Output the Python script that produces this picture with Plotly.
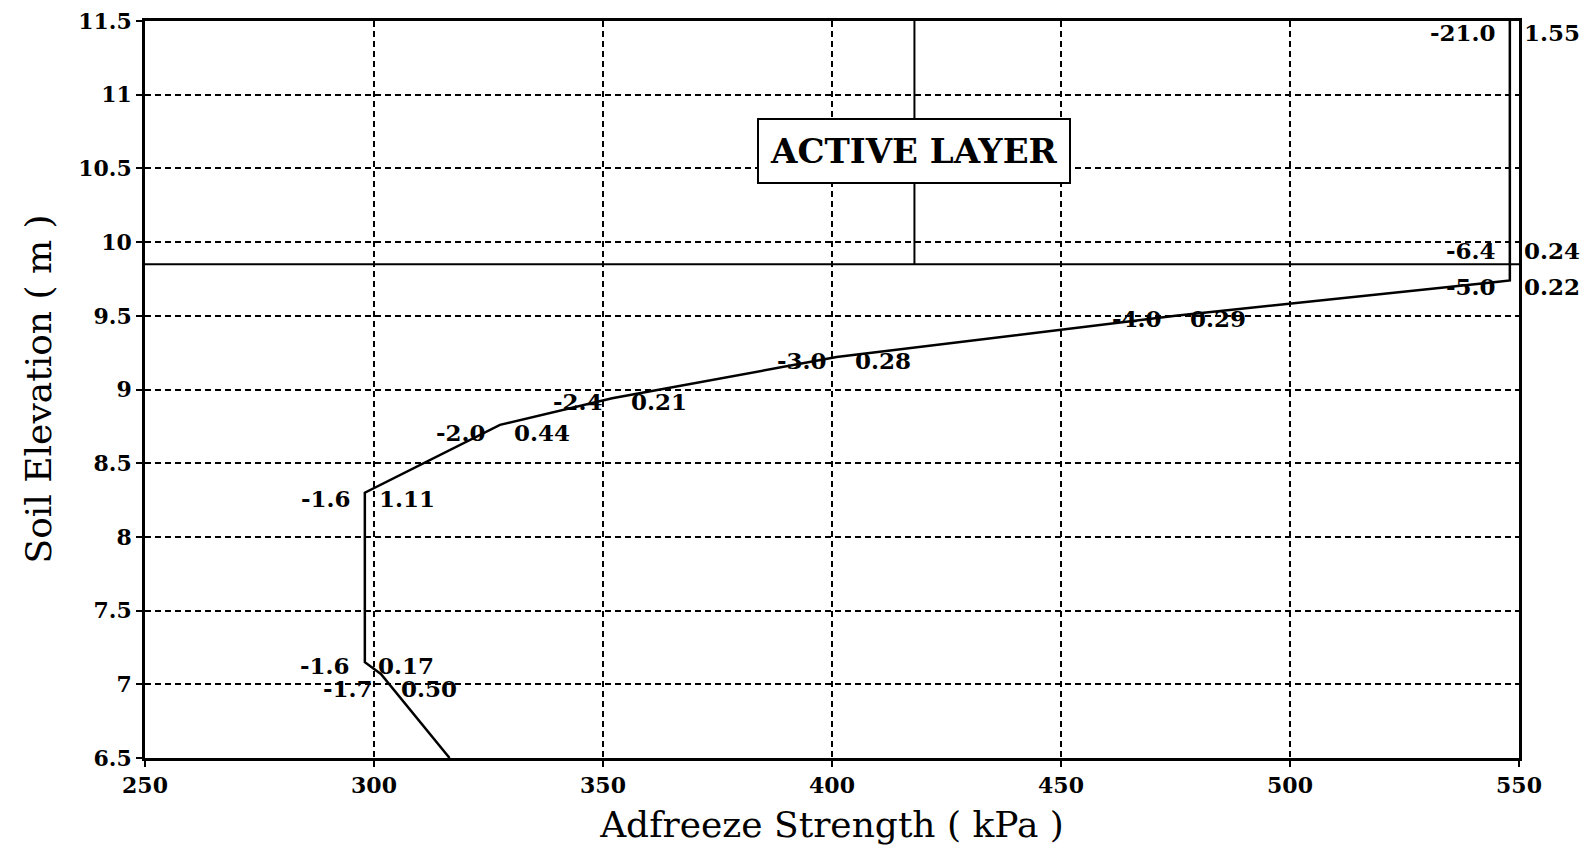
"""Adfreeze strength vs soil elevation, with temperature / ratio labels."""
import plotly.graph_objects as go

# curve
strength_kpa = [316.5, 301.5, 298, 298, 327.5, 352, 401, 475, 545, 548, 548]
elevation_m = [6.5, 7.07, 7.15, 8.30, 8.76, 8.94, 9.22, 9.50, 9.73, 9.74, 11.5]

# point labels: temperature on the left, second value on the right
label_x = [548, 548, 548, 475, 402, 353, 327.5, 298, 297.8, 302.9, 316.5]
label_y = [11.42, 9.94, 9.70, 9.48, 9.20, 8.92, 8.71, 8.26, 7.13, 6.97, 6.48]
temp_labels = ["-21.0", "-6.4", "-5.0", "-4.0", "-3.0", "-2.4", "-2.0",
               "-1.6", "-1.6", "-1.7", "-1.9"]
ratio_labels = ["1.55", "0.24", "0.22", "0.29", "0.28", "0.21", "0.44",
                "1.11", "0.17", "0.50", ""]

active_base = 9.85
active_x = 418
active_label_y = 10.62

X_RANGE = [250, 550]
Y_RANGE = [6.5, 11.5]
SERIF = "DejaVu Serif"
MARGIN = dict(l=137, r=84, t=13, b=100)

fig = go.Figure()
fig.add_scatter(x=X_RANGE, y=[active_base, active_base], mode="lines",
                line=dict(color="black", width=2), hoverinfo="skip")
fig.add_scatter(x=[active_x, active_x], y=[active_base, Y_RANGE[1]],
                mode="lines", line=dict(color="black", width=2),
                hoverinfo="skip")
fig.add_scatter(x=strength_kpa, y=elevation_m, mode="lines",
                line=dict(color="black", width=2.5))

lab_font = dict(family=SERIF, size=23, color="black", weight="bold")
for x, y, t, r in zip(label_x, label_y, temp_labels, ratio_labels):
    fig.add_annotation(x=x, y=y, text=t, showarrow=False, xanchor="right",
                       xshift=-12, font=lab_font)
    if r:
        fig.add_annotation(x=x, y=y, text=r, showarrow=False, xanchor="left",
                           xshift=12, font=lab_font)

fig.add_annotation(x=active_x, y=active_label_y, text="ACTIVE LAYER",
                   showarrow=False, bgcolor="white", bordercolor="black",
                   borderwidth=2, borderpad=11,
                   font=dict(family=SERIF, size=34, color="black",
                             weight="bold"))

# y title as a rotated annotation so it can sit out at the page edge
plot_w = 1595 - MARGIN["l"] - MARGIN["r"]
fig.add_annotation(xref="paper", yref="paper", x=(30 - MARGIN["l"]) / plot_w,
                   y=0.5, text="Soil Elevation ( m )", textangle=-90,
                   showarrow=False, xanchor="center", yanchor="middle",
                   font=dict(family=SERIF, size=36, color="black"))

axis_common = dict(showline=True, linecolor="black", linewidth=2.5,
                   mirror=True, ticks="outside", ticklen=6, tickwidth=2,
                   tickcolor="black", showgrid=True, gridcolor="black",
                   gridwidth=2, griddash="6px,4px", zeroline=False,
                   automargin=False, ticklabeloverflow="allow",
                   tickfont=dict(family=SERIF, size=22, color="black",
                                 weight="bold"))

fig.update_xaxes(range=X_RANGE, dtick=50, tick0=250,
                 title=dict(text="Adfreeze Strength ( kPa )",
                            font=dict(family=SERIF, size=36, color="black")),
                 **axis_common)
fig.update_yaxes(range=Y_RANGE, dtick=0.5, tick0=6.5, **axis_common)

fig.update_layout(width=1595, height=850, showlegend=False,
                  template="plotly_white", plot_bgcolor="white",
                  paper_bgcolor="white", margin=MARGIN)
fig.write_html("out.html")
